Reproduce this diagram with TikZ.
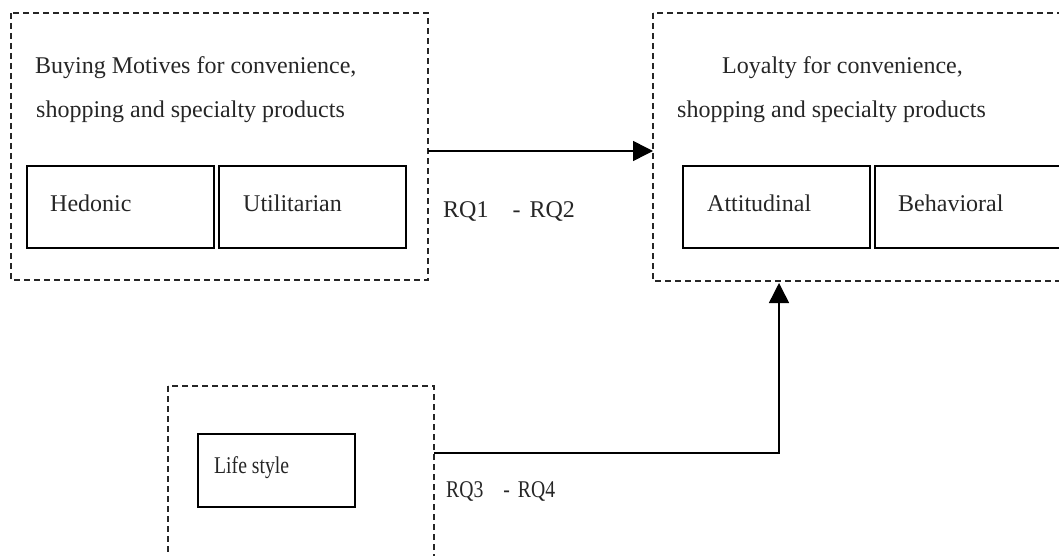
\documentclass[tikz,border=0pt]{standalone}
\usepackage{fontspec}
\setmainfont{Liberation Serif}
\newfontfamily\condfont[FakeStretch=0.82]{Liberation Serif}
\usetikzlibrary{arrows.meta}
\begin{document}
\begin{tikzpicture}[x=1pt,y=-1pt,
  group/.style={draw=black!85,dashed,dash pattern=on 6pt off 4pt,line width=1.3pt},
  item/.style={draw=black,line width=1.5pt},
  txt/.style={anchor=base west,inner sep=0pt,font=\fontsize{24}{28}\selectfont,text=black!85},
  ctxt/.style={anchor=base west,inner sep=0pt,font=\condfont\fontsize{24}{28}\selectfont,text=black!85},
  conn/.style={line width=1.5pt,-{Triangle[length=20pt,width=20pt]}}]
\useasboundingbox (0,0) rectangle (1059,556);
% groups
\draw[group] (11,13) rectangle (428,280);
\draw[group] (653,13) rectangle (1075,281);
\draw[group] (168,386) rectangle (434,575);
\coordinate (g1e) at (428,151);
\coordinate (g2w) at (653,151);
\coordinate (g3e) at (434,453);
\coordinate (g2s) at (779,283);
\coordinate (bend) at (779,453);
% inner boxes
\node[item,minimum width=187pt,minimum height=82pt,inner sep=0pt] (hed) at (120.5,207) {};
\node[item,minimum width=187pt,minimum height=82pt,inner sep=0pt] (uti) at (312.5,207) {};
\node[item,minimum width=187pt,minimum height=82pt,inner sep=0pt] (att) at (776.5,207) {};
\node[item,minimum width=200pt,minimum height=82pt,inner sep=0pt] (beh) at (975,207) {};
\node[item,minimum width=157pt,minimum height=73pt,inner sep=0pt] (life) at (276.5,470.5) {};
% texts
\node[txt] (t1) at (35,74) {Buying Motives for convenience,};
\node[txt] (t2) at (36,118) {shopping and specialty products};
\node[txt] (t3) at (50,211) {Hedonic};
\node[txt] (t4) at (243,211) {Utilitarian};
\node[txt] (t5) at (722,74) {Loyalty for convenience,};
\node[txt] (t6) at (677,118) {shopping and specialty products};
\node[txt] (t7) at (707,211) {Attitudinal};
\node[txt] (t8) at (898,211) {Behavioral};
\node[ctxt] (t9) at (214,473) {Life style};
\node[txt] (rq12) at (443,217) {RQ1\hspace{24pt}-\hspace{9pt}RQ2};
\node[ctxt] (rq34) at (446,497) {RQ3\hspace{20pt}-\hspace{8pt}RQ4};
% connectors
\draw[conn] (g1e) -- (g2w);
\draw[conn] (g3e) -- (bend) -- (g2s);
\end{tikzpicture}
\end{document}
